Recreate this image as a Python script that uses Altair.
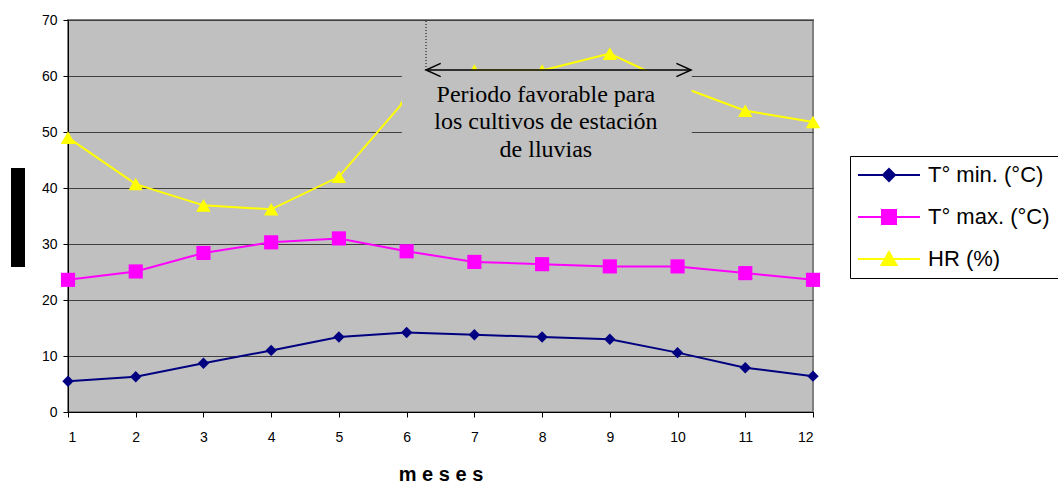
import altair as alt
import pandas as pd

# ---- data ----
meses = [1, 2, 3, 4, 5, 6, 7, 8, 9, 10, 11, 12]
t_min = [5.5, 6.3, 8.7, 11.0, 13.4, 14.2, 13.8, 13.4, 13.0, 10.6, 7.9, 6.4]
t_max = [23.6, 25.1, 28.4, 30.3, 31.0, 28.7, 26.8, 26.4, 26.0, 26.0, 24.8, 23.6]
hr = [49.0, 40.7, 36.9, 36.2, 42.0, 56.0, 61.0, 61.0, 64.0, 58.3, 53.8, 51.8]

series = ["T° min. (°C)", "T° max. (°C)", "HR (%)"]
colores = ["#000080", "#FF00FF", "#FFFF00"]
formas = ["diamond", "square", "triangle-up"]
tamanos = [130, 200, 210]

# legend symbols: line segment with marker (paths in symbol units)
leyenda_paths = [
    "M-1.1,0H5.1M2,-0.6L2.6,0L2,0.6L1.4,0Z",
    "M-1.1,0H5.1M1.3,-0.7H2.7V0.7H1.3Z",
    "M-1.1,0H5.1M2,-0.7L2.75,0.6L1.25,0.6Z",
]

# annotation (in data units)
caja_x = [5.93, 10.21]
caja_y = [43.2, 61.0]
flecha_x = [6.286, 10.2]
flecha_y = 61.07
nota_x = 8.056
nota_y = 55.4
nota_texto = "Periodo favorable para\nlos cultivos de estación\nde lluvias"
punteada_y = [61.07, 70]

y_ticks = [0, 10, 20, 30, 40, 50, 60, 70]

rows = []
for s, vals in zip(series, [t_min, t_max, hr]):
    for m, v in zip(meses, vals):
        rows.append({"mes": m, "valor": v, "serie": s})
df = pd.DataFrame(rows)

x_enc = alt.X("mes:Q", scale=alt.Scale(domain=[1, 12], nice=False),
              axis=alt.Axis(values=meses, format="d", grid=False, tickSize=5, tickColor="black",
                            domainColor="black", labelPadding=13, labelFontSize=14,
                            labelFont="Liberation Sans", labelColor="black",
                            title="m e s e s", titleFont="Liberation Sans",
                            titleFontSize=20, titleFontWeight="bold", titleColor="black",
                            titleY=68, titleBaseline="alphabetic"))
y_enc = alt.Y("valor:Q", scale=alt.Scale(domain=[0, 70], nice=False),
              axis=alt.Axis(values=y_ticks, grid=True, gridColor="#404040", gridWidth=1,
                            tickSize=5, tickColor="black", domainColor="black",
                            labelPadding=6, labelFontSize=14, labelFont="Liberation Sans",
                            labelColor="black", title=None))

base = alt.Chart(df)

lineas = []
puntos = []
for i, (s, c, f, t) in enumerate(zip(series, colores, formas, tamanos)):
    sub = base.transform_filter(alt.datum.serie == s)
    if i == 0:
        lineas.append(sub.mark_line(strokeWidth=2, color=c).encode(x=x_enc, y=y_enc))
    else:
        lineas.append(sub.mark_line(strokeWidth=2, color=c).encode(x="mes:Q", y="valor:Q"))
    puntos.append(
        sub.mark_point(filled=True, shape=f, size=t, color=c, opacity=1)
        .encode(x="mes:Q", y="valor:Q")
    )

leyenda = base.mark_point(filled=True, size=0, strokeWidth=2, opacity=1).encode(
    x="mes:Q", y="valor:Q",
    shape=alt.Shape("serie:N", scale=alt.Scale(domain=series, range=leyenda_paths),
                    legend=alt.Legend(title=None, orient="none", legendX=782, legendY=136,
                                      symbolSize=400, symbolOpacity=1, symbolStrokeWidth=2,
                                      symbolFillColor="black", symbolStrokeColor="black",
                                      labelFont="Liberation Sans", labelFontSize=22,
                                      labelColor="black", labelOffset=48, labelLimit=0,
                                      rowPadding=20, padding=8, fillColor="white",
                                      strokeColor="black")),
    fill=alt.Fill("serie:N", scale=alt.Scale(domain=series, range=colores)),
    stroke=alt.Stroke("serie:N", scale=alt.Scale(domain=series, range=colores)),
)

caja_df = pd.DataFrame({"x": [caja_x[0]], "x2": [caja_x[1]], "y": [caja_y[0]], "y2": [caja_y[1]]})
caja = alt.Chart(caja_df).mark_rect(color="#C0C0C0").encode(
    x="x:Q", x2="x2:Q", y="y:Q", y2="y2:Q")

nota_df = pd.DataFrame({"x": [nota_x], "y": [nota_y], "t": [nota_texto]})
nota = alt.Chart(nota_df).mark_text(
    font="Liberation Serif", fontSize=24, align="center", baseline="alphabetic",
    lineBreak="\n", lineHeight=27.6, color="black"
).encode(x="x:Q", y="y:Q", text="t:N")

flecha_df = pd.DataFrame({"x": [flecha_x[0]], "x2": [flecha_x[1]], "y": [flecha_y]})
flecha = alt.Chart(flecha_df).mark_rule(color="black", strokeWidth=1.5).encode(
    x="x:Q", x2="x2:Q", y="y:Q")

punta_izq = alt.Chart(pd.DataFrame({"x": [flecha_x[0]], "y": [flecha_y]})).mark_point(
    filled=False, size=196, strokeWidth=1.5, color="black", opacity=1,
    shape="M2.1,-0.95L0,0L2.1,0.95").encode(x="x:Q", y="y:Q")
punta_der = alt.Chart(pd.DataFrame({"x": [flecha_x[1]], "y": [flecha_y]})).mark_point(
    filled=False, size=196, strokeWidth=1.5, color="black", opacity=1,
    shape="M-2.1,-0.95L0,0L-2.1,0.95").encode(x="x:Q", y="y:Q")

punteada_df = pd.DataFrame({"x": [flecha_x[0]], "y": [punteada_y[0]], "y2": [punteada_y[1]]})
punteada = alt.Chart(punteada_df).mark_rule(color="black", strokeWidth=1, strokeDash=[1, 2]).encode(
    x="x:Q", y="y:Q", y2="y2:Q")

barra = alt.Chart(pd.DataFrame({"a": [0]})).mark_rect(color="black").encode(
    x=alt.value(-57), x2=alt.value(-43), y=alt.value(148), y2=alt.value(247))

chart = alt.layer(*lineas, *puntos, leyenda, caja, nota, flecha, punta_izq, punta_der,
                  punteada, barra).properties(
    width=745, height=392,
    autosize=alt.AutoSizeParams(type="none"),
    padding={"left": 68, "top": 20, "right": 245, "bottom": 71},
    background="white",
).configure_view(
    fill="#C0C0C0", stroke="#808080", strokeWidth=2
)

chart.save("out.html", embed_options={"renderer": "svg", "actions": False})
